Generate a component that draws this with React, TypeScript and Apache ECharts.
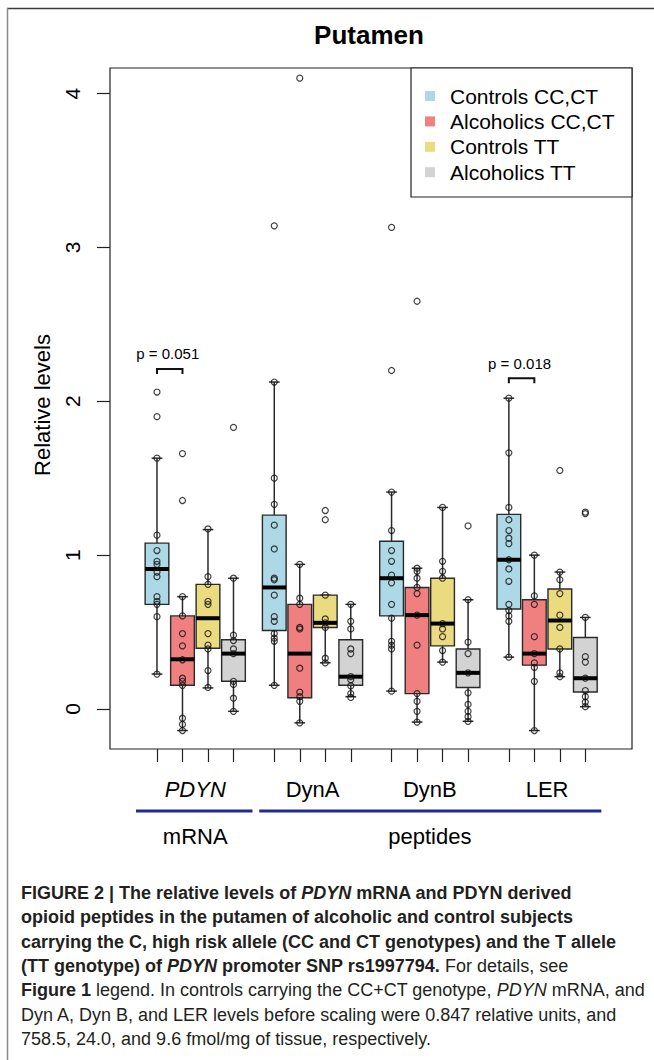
import React, { useEffect, useRef } from "react";
import * as echarts from "echarts";

// ---------------- DATA ----------------
const groups = ["PDYN", "DynA", "DynB", "LER"];
const groupItalic = [true, false, false, false];
const seriesNames = ["Controls CC,CT", "Alcoholics CC,CT", "Controls TT", "Alcoholics TT"];

// box stats per group: [lower whisker, Q1, median, Q3, upper whisker]
const controlsCCStats = [
  [0.227, 0.68, 0.91, 1.078, 1.63],
  [0.154, 0.51, 0.79, 1.26, 2.125],
  [0.116, 0.605, 0.85, 1.09, 1.41],
  [0.337, 0.65, 0.97, 1.265, 2.02],
];
const alcoholicsCCStats = [
  [-0.14, 0.154, 0.323, 0.605, 0.73],
  [-0.09, 0.073, 0.36, 0.68, 0.94],
  [-0.085, 0.1, 0.61, 0.79, 0.915],
  [-0.14, 0.285, 0.36, 0.71, 1.0],
];
const controlsTTStats = [
  [0.137, 0.395, 0.59, 0.81, 1.166],
  [0.3, 0.53, 0.56, 0.74, 0.74],
  [0.305, 0.41, 0.555, 0.85, 1.31],
  [0.21, 0.39, 0.575, 0.78, 0.89],
];
const alcoholicsTTStats = [
  [-0.015, 0.18, 0.36, 0.45, 0.85],
  [0.08, 0.154, 0.21, 0.45, 0.68],
  [-0.08, 0.14, 0.235, 0.39, 0.71],
  [0.015, 0.11, 0.2, 0.465, 0.595],
];

// individual subject values per group
const controlsCCPoints = [
  [2.06, 1.9, 1.63, 1.13, 1.03, 0.96, 0.94, 0.89, 0.86, 0.73, 0.7, 0.68, 0.6, 0.227],
  [3.14, 2.125, 1.5, 1.33, 1.195, 1.04, 0.85, 0.84, 0.74, 0.6, 0.57, 0.49, 0.46, 0.44, 0.154],
  [3.13, 2.2, 1.41, 1.16, 1.03, 0.96, 0.87, 0.82, 0.68, 0.59, 0.44, 0.415, 0.39, 0.116],
  [2.02, 1.665, 1.31, 1.23, 1.16, 1.11, 1.075, 0.97, 0.91, 0.83, 0.68, 0.64, 0.605, 0.57, 0.337],
];
const alcoholicsCCPoints = [
  [1.66, 1.355, 0.73, 0.605, 0.49, 0.41, 0.32, 0.2, 0.18, 0.154, -0.06, -0.1, -0.14],
  [4.1, 0.94, 0.72, 0.68, 0.53, 0.52, 0.265, 0.11, 0.08, 0.05, -0.09],
  [2.65, 0.915, 0.895, 0.85, 0.79, 0.75, 0.61, 0.415, 0.1, 0.05, -0.015, -0.085],
  [1.0, 0.735, 0.68, 0.47, 0.36, 0.3, 0.27, 0.18, -0.14],
];
const controlsTTPoints = [
  [1.17, 0.86, 0.81, 0.7, 0.68, 0.49, 0.415, 0.39, 0.25, 0.14],
  [1.29, 1.23, 0.74, 0.585, 0.56, 0.53, 0.33, 0.3],
  [1.31, 0.96, 0.895, 0.85, 0.555, 0.52, 0.47, 0.38, 0.305],
  [1.55, 0.89, 0.84, 0.75, 0.61, 0.53, 0.39, 0.235, 0.21],
];
const alcoholicsTTPoints = [
  [1.83, 0.85, 0.48, 0.445, 0.39, 0.36, 0.18, 0.16, 0.07, -0.015],
  [0.68, 0.57, 0.52, 0.39, 0.36, 0.21, 0.19, 0.15, 0.1, 0.075],
  [1.19, 0.71, 0.435, 0.36, 0.235, 0.105, 0.03, -0.015, -0.05, -0.08],
  [1.28, 1.27, 0.595, 0.34, 0.305, 0.2, 0.12, 0.08, 0.045, 0.015],
];

const yTicks = [0, 1, 2, 3, 4];
const pLabels = ["p = 0.051", "p = 0.018"];
const pGroupIndex = [0, 3];
const pBracketValue = [2.21, 2.15];
const superLabels = ["mRNA", "peptides"];
const superGroupSpan = [
  [0, 0],
  [1, 3],
];
const captionLines = [
  "{b|FIGURE 2 | The relative levels of }{bi|PDYN}{b| mRNA and PDYN derived}",
  "{b|opioid peptides in the putamen of alcoholic and control subjects}",
  "{b|carrying the C, high risk allele (CC and CT genotypes) and the T allele}",
  "{b|(TT genotype) of }{bi|PDYN}{b| promoter SNP rs1997794.}{n| For details, see}",
  "{b|Figure 1}{n| legend. In controls carrying the CC+CT genotype, }{i|PDYN}{n| mRNA, and}",
  "{n|Dyn A, Dyn B, and LER levels before scaling were 0.847 relative units, and}",
  "{n|758.5, 24.0, and 9.6 fmol/mg of tissue, respectively.}",
];

// ---------------- STYLE / LAYOUT ----------------
const FONT = "'Liberation Sans', Arial, Helvetica, sans-serif";
const fills = ["#ADD8E6", "#F08080", "#EADB80", "#D3D3D3"];
const W = 654;
const H = 1060;
const GRID_L = 110;
const GRID_T = 68;
const GRID_R = 632;
const GRID_B = 749;
const X_MIN = -1.843;
const X_MAX = 18.63;
const Y_MIN = -0.26;
const Y_MAX = 4.166;
const GROUP_STEP = 4.6;
const BOX_W = 0.93;

const px = (v: number) => GRID_L + ((v - X_MIN) / (X_MAX - X_MIN)) * (GRID_R - GRID_L);
const py = (v: number) => GRID_B - ((v - Y_MIN) / (Y_MAX - Y_MIN)) * (GRID_B - GRID_T);
const pos = (g: number, s: number) => g * GROUP_STEP + s;

const allStats = [controlsCCStats, alcoholicsCCStats, controlsTTStats, alcoholicsTTStats];
const allPoints = [controlsCCPoints, alcoholicsCCPoints, controlsTTPoints, alcoholicsTTPoints];

function buildOption() {
  const stroke = "#2a2a2a";
  const boxSeries = seriesNames.map((name, s) => ({
    type: "custom",
    name,
    z: 2,
    data: allStats[s].map((st, g) => [pos(g, s), ...st]),
    encode: { x: 0, y: [1, 2, 3, 4, 5] },
    renderItem: (params: any, api: any) => {
      const x = api.value(0);
      const lo = api.value(1);
      const q1 = api.value(2);
      const med = api.value(3);
      const q3 = api.value(4);
      const hi = api.value(5);
      const w = api.size([BOX_W, 0])[0];
      const c = (v: number) => api.coord([x, v]);
      const pLo = c(lo);
      const pQ1 = c(q1);
      const pMed = c(med);
      const pQ3 = c(q3);
      const pHi = c(hi);
      const cx = pLo[0];
      const cap = w * 0.45;
      const ls = { stroke, lineWidth: 1.5 };
      return {
        type: "group",
        children: [
          { type: "line", shape: { x1: cx, y1: pQ3[1], x2: cx, y2: pHi[1] }, style: ls },
          { type: "line", shape: { x1: cx, y1: pQ1[1], x2: cx, y2: pLo[1] }, style: ls },
          { type: "line", shape: { x1: cx - cap / 2, y1: pHi[1], x2: cx + cap / 2, y2: pHi[1] }, style: ls },
          { type: "line", shape: { x1: cx - cap / 2, y1: pLo[1], x2: cx + cap / 2, y2: pLo[1] }, style: ls },
          {
            type: "rect",
            shape: { x: cx - w / 2, y: pQ3[1], width: w, height: pQ1[1] - pQ3[1] },
            style: { fill: fills[s], stroke, lineWidth: 1.4 },
          },
          {
            type: "line",
            shape: { x1: cx - w / 2, y1: pMed[1], x2: cx + w / 2, y2: pMed[1] },
            style: { stroke: "#000", lineWidth: 4 },
          },
        ],
      };
    },
  }));

  const pointSeries = seriesNames.map((name, s) => ({
    type: "scatter",
    name: name + " points",
    z: 5,
    symbol: "circle",
    symbolSize: 6,
    itemStyle: { color: "rgba(255,255,255,0)", borderColor: "#111", borderWidth: 1.2 },
    data: allPoints[s].flatMap((vals, g) => vals.map((v) => [pos(g, s), v])),
  }));

  const xTickValues: number[] = [];
  groups.forEach((_, g) => seriesNames.forEach((__, s) => xTickValues.push(pos(g, s))));

  const graphics: any[] = [];
  // outer figure frame
  graphics.push({
    type: "line",
    shape: { x1: 7, y1: 8.5, x2: W, y2: 8.5 },
    style: { stroke: "#3a3a3a", lineWidth: 1.5 },
  });
  graphics.push({
    type: "line",
    shape: { x1: 7.5, y1: 8, x2: 7.5, y2: H },
    style: { stroke: "#8a8a8a", lineWidth: 1.5 },
  });
  // title
  graphics.push({
    type: "text",
    x: (GRID_L + GRID_R) / 2 - 2,
    y: 35,
    style: {
      text: "Putamen",
      fontSize: 26,
      fontWeight: "bold",
      fontFamily: FONT,
      fill: "#000",
      align: "center",
      verticalAlign: "middle",
    },
  });
  // y axis name
  graphics.push({
    type: "text",
    x: 42,
    y: 405,
    rotation: Math.PI / 2,
    style: {
      text: "Relative levels",
      fontSize: 22,
      fontFamily: FONT,
      fill: "#000",
      align: "center",
      verticalAlign: "middle",
    },
  });
  // legend
  graphics.push({
    type: "rect",
    z: 10,
    shape: { x: 411, y: GRID_T, width: GRID_R - 411, height: 129 },
    style: { fill: "#fff", stroke: "#222", lineWidth: 1.2 },
  });
  seriesNames.forEach((name, i) => {
    const yy = 96 + i * 25.4;
    graphics.push({
      type: "rect",
      z: 11,
      shape: { x: 425, y: yy - 5, width: 10, height: 10 },
      style: { fill: fills[i] },
    });
    graphics.push({
      type: "text",
      z: 11,
      x: 450,
      y: yy,
      style: {
        text: name,
        fontSize: 21,
        fontFamily: FONT,
        fill: "#000",
        align: "left",
        verticalAlign: "middle",
      },
    });
  });
  // p value brackets
  pLabels.forEach((lab, k) => {
    const g = pGroupIndex[k];
    const x1 = px(pos(g, 0));
    const x2 = px(pos(g, 1));
    const yb = py(pBracketValue[k]);
    graphics.push({
      type: "polyline",
      z: 6,
      shape: { points: [[x1, yb + 5], [x1, yb], [x2, yb], [x2, yb + 5]] },
      style: { stroke: "#111", lineWidth: 2, fill: null },
    });
    graphics.push({
      type: "text",
      z: 6,
      x: (x1 + x2) / 2 - 2,
      y: yb - 15,
      style: {
        text: lab,
        fontSize: 15,
        fontFamily: FONT,
        fill: "#000",
        align: "center",
        verticalAlign: "middle",
      },
    });
  });
  // group labels
  groups.forEach((gName, g) => {
    graphics.push({
      type: "text",
      x: px(pos(g, 1.5)),
      y: 789,
      style: {
        text: gName,
        fontSize: 22,
        fontStyle: groupItalic[g] ? "italic" : "normal",
        fontFamily: FONT,
        fill: "#000",
        align: "center",
        verticalAlign: "middle",
      },
    });
  });
  // super group lines and labels
  superLabels.forEach((lab, k) => {
    const [ga, gb] = superGroupSpan[k];
    const xa = px(pos(ga, 0)) - (k === 0 ? 21 : 15);
    const xb = px(pos(gb, 3)) + (k === 0 ? 19 : 16);
    graphics.push({
      type: "line",
      shape: { x1: xa, y1: 811, x2: xb, y2: 811 },
      style: { stroke: "#1f2b95", lineWidth: 3 },
    });
    graphics.push({
      type: "text",
      x: (px(pos(ga, 1.5)) + px(pos(gb, 1.5))) / 2,
      y: 836,
      style: {
        text: lab,
        fontSize: 22,
        fontFamily: FONT,
        fill: "#000",
        align: "center",
        verticalAlign: "middle",
      },
    });
  });
  // caption
  const rich = {
    b: { fontSize: 18, fontWeight: "bold", fontFamily: FONT, fill: "#231f20" },
    bi: { fontSize: 18, fontWeight: "bold", fontStyle: "italic", fontFamily: FONT, fill: "#231f20" },
    n: { fontSize: 18, fontFamily: FONT, fill: "#231f20" },
    i: { fontSize: 18, fontStyle: "italic", fontFamily: FONT, fill: "#231f20" },
  };
  captionLines.forEach((line, k) => {
    graphics.push({
      type: "text",
      x: 21,
      y: 893 + k * 24.3,
      style: { text: line, rich, align: "left", verticalAlign: "middle" },
    });
  });

  return {
    animation: false,
    backgroundColor: "#fff",
    grid: {
      left: GRID_L,
      top: GRID_T,
      width: GRID_R - GRID_L,
      height: GRID_B - GRID_T,
      show: true,
      borderColor: "#222",
      borderWidth: 1.2,
      backgroundColor: "transparent",
    },
    xAxis: {
      type: "value",
      position: "bottom",
      min: X_MIN,
      max: X_MAX,
      axisLine: { show: false, onZero: false },
      splitLine: { show: false },
      axisTick: { show: true, customValues: xTickValues, length: 13, lineStyle: { color: "#222", width: 1.2 } },
      axisLabel: { show: false },
    },
    yAxis: {
      type: "value",
      position: "left",
      min: Y_MIN,
      max: Y_MAX,
      axisLine: { show: false, onZero: false },
      splitLine: { show: false },
      axisTick: { show: true, customValues: yTicks, length: 13, lineStyle: { color: "#222", width: 1.2 } },
      axisLabel: {
        show: true,
        customValues: yTicks,
        rotate: 90,
        fontSize: 21,
        fontFamily: FONT,
        color: "#000",
        margin: 27,
      },
    },
    series: [...boxSeries, ...pointSeries],
    graphic: graphics,
  };
}

export default function App() {
  const ref = useRef<HTMLDivElement>(null);
  useEffect(() => {
    if (!ref.current) return;
    const chart = echarts.init(ref.current, null, { renderer: "svg" });
    chart.setOption(buildOption() as any);
    return () => chart.dispose();
  }, []);
  return (
    <div
      ref={ref}
      style={{ position: "absolute", left: 0, top: 0, width: W, height: H, background: "#fff" }}
    />
  );
}
